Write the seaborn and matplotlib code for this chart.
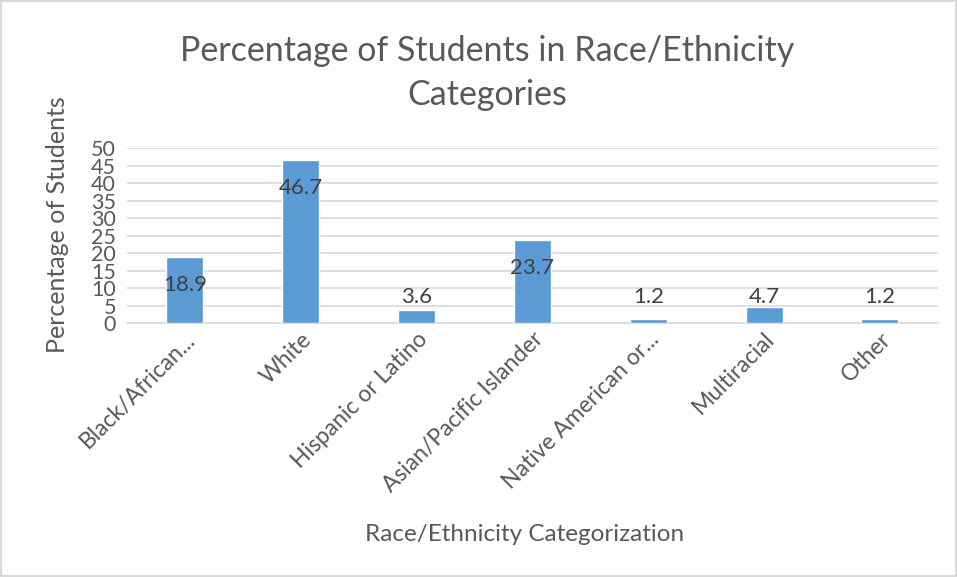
import matplotlib
matplotlib.use("Agg")
import matplotlib.pyplot as plt
import seaborn as sns
import pandas as pd

categories = ["Black/African...", "White", "Hispanic or Latino", "Asian/Pacific Islander",
              "Native American or...", "Multiracial", "Other"]
values = [18.9, 46.7, 3.6, 23.7, 1.2, 4.7, 1.2]
yticks = [0, 5, 10, 15, 20, 25, 30, 35, 40, 45, 50]

sns.set_theme(style="white")
plt.rcParams['font.family'] = ['Lato', 'DejaVu Sans']
txt = "#595959"

df = pd.DataFrame({"cat": categories, "val": values})

fig = plt.figure(figsize=(9.57, 5.77), dpi=100)
fig.patch.set_facecolor("white")
fig.patch.set_edgecolor("#d9d9d9")
fig.patch.set_linewidth(1.5)
ax = fig.add_axes([0.1327, 0.4402, 0.8473, 0.3033])

sns.barplot(data=df, x="cat", y="val", color="#5B9BD5", width=0.32, saturation=1, ax=ax, zorder=3)

ax.set_ylim(0, 50)
ax.set_yticks(yticks)
ax.set_yticklabels([str(t) for t in yticks], fontsize=15.5, color=txt)
ax.set_xlim(-0.5, len(categories) - 0.5)
ax.yaxis.grid(True, color="#d9d9d9", linewidth=1.2, zorder=0)
ax.set_axisbelow(True)
for s in ["top", "right", "left"]:
    ax.spines[s].set_visible(False)
ax.spines["bottom"].set_color("#d9d9d9")
ax.spines["bottom"].set_linewidth(1.2)
ax.tick_params(axis="y", length=0, pad=8)
ax.tick_params(axis="x", length=0, pad=4)

ax.set_xticks(range(len(categories)))
ax.set_xticklabels(categories, rotation=45, ha="right", rotation_mode="anchor",
                   fontsize=16.5, color=txt)

for i, v in enumerate(values):
    ypos = max(v - 8, 7.5)
    ax.text(i, ypos, f"{v}", ha="center", va="center", fontsize=16, color="#404040", zorder=4)

ax.set_xlabel("Race/Ethnicity Categorization", fontsize=17.5, color=txt)
ax.xaxis.set_label_coords(0.49, -1.15)
ax.set_ylabel("Percentage of Students", fontsize=18, color=txt)
ax.yaxis.set_label_coords(-0.072, 0.56)

fig.text(0.509, 0.912, "Percentage of Students in Race/Ethnicity", ha="center", va="center",
         fontsize=24.5, color=txt)
fig.text(0.509, 0.835, "Categories", ha="center", va="center", fontsize=24.5, color=txt)

fig.savefig("out.png", dpi=100, facecolor="white", edgecolor="#d9d9d9")
